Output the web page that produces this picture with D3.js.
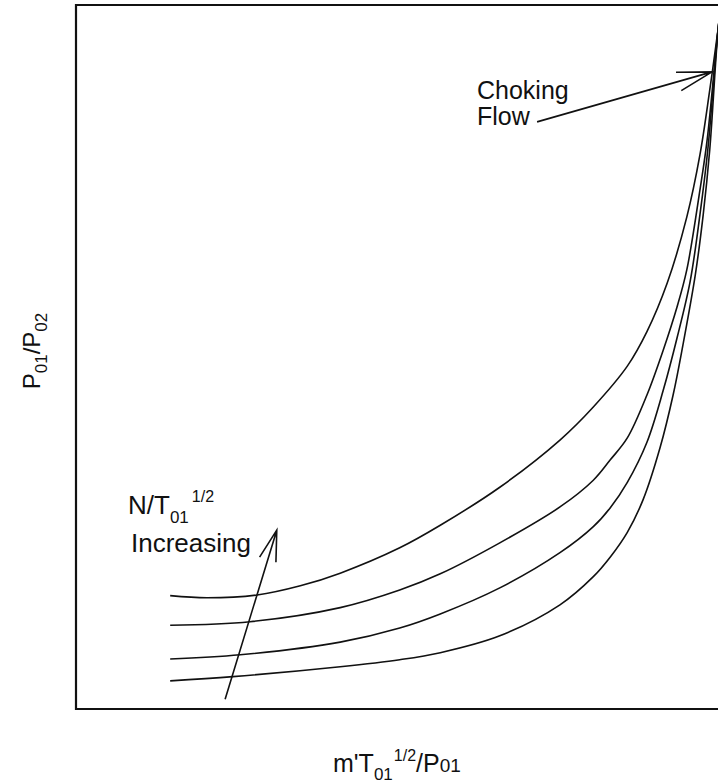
<!DOCTYPE html>
<html>
<head>
<meta charset="utf-8">
<script src="https://cdn.jsdelivr.net/npm/d3@7"></script>
<style>
  html, body { margin: 0; padding: 0; background: #fff; }
  svg { display: block; }
  text { font-family: "Liberation Sans", Arial, Helvetica, sans-serif; fill: #111; }
</style>
</head>
<body>
<svg id="chart" width="718" height="784"></svg>
<script>
// compressor characteristic: pressure ratio vs. non-dimensional mass flow
// arbitrary units 0..100 on both axes (no ticks on the original)

// one constant-speed line per N/T01^1/2, lowest speed first
const speedLine1 = [
    [14.4, 4.0], [24.0, 4.6], [40.4, 6.0], [49.5, 7.0], [55.7, 8.0], [64.8, 10.4],
    [74.0, 14.8], [79.1, 18.8], [81.7, 21.6], [84.3, 25.1], [86.7, 29.7], [89.3, 37.1],
    [91.3, 44.6], [92.8, 51.7], [94.7, 61.7], [95.9, 70.2], [96.9, 79.4], [98.2, 96.7],
    [98.9, 102.1]
];
const speedLine2 = [
    [14.4, 7.1], [25.1, 7.7], [40.4, 9.5], [49.5, 11.5], [55.7, 13.5], [64.8, 17.2],
    [74.0, 22.2], [79.1, 25.9], [81.7, 28.6], [84.3, 32.2], [87.3, 37.9], [89.8, 45.3],
    [91.9, 52.7], [93.9, 60.7], [95.4, 70.2], [96.6, 79.4], [98.2, 96.7], [98.9, 102.1]
];
const speedLine3 = [
    [14.4, 11.9], [26.6, 12.4], [40.4, 14.4], [49.5, 16.9], [55.7, 19.2], [64.8, 23.6],
    [74.0, 28.7], [79.1, 32.5], [81.7, 35.4], [84.3, 38.5], [87.3, 44.6], [89.8, 51.0],
    [91.9, 57.1], [93.4, 62.4], [95.4, 73.7], [96.5, 80.8], [98.2, 96.7], [98.9, 102.1]
];
const speedLine4 = [
    [14.4, 16.1], [20.0, 15.8], [27.7, 16.2], [34.3, 17.5], [40.4, 19.3], [49.5, 22.9],
    [55.7, 26.1], [64.8, 31.5], [74.0, 38.2], [79.1, 42.9], [84.3, 48.7], [87.3, 53.6],
    [90.4, 60.5], [93.4, 69.9], [95.4, 78.7], [96.9, 87.9], [98.2, 96.7], [98.9, 102.1]
];
const speedLines = [speedLine1, speedLine2, speedLine3, speedLine4];

// annotation arrows, [from, to] in data units
const chokingArrow = [[70.5, 83.4], [97.25, 90.5]];
const speedArrow = [[22.8, 1.4], [30.7, 25.4]];


const svg = d3.select("#chart");

const x = d3.scaleLinear().domain([0, 100]).range([76, 730]);
const y = d3.scaleLinear().domain([0, 100]).range([709, 5]);

// frame (right side runs off the page like the scan)
svg.append("path")
    .attr("d", `M${x(100)},${y(100)} H${x(0)} V${y(0)} H${x(100)}`)
    .attr("fill", "none")
    .attr("stroke", "#111")
    .attr("stroke-width", 2.2);

const line = d3.line()
    .x(d => x(d[0]))
    .y(d => y(d[1]))
    .curve(d3.curveCatmullRom.alpha(0.5));

svg.append("g")
    .selectAll("path")
    .data(speedLines)
    .join("path")
    .attr("d", line)
    .attr("fill", "none")
    .attr("stroke", "#111")
    .attr("stroke-width", 1.6);


function drawArrow(pts, barbLen, spread) {
    const [x0, y0] = [x(pts[0][0]), y(pts[0][1])];
    const [x1, y1] = [x(pts[1][0]), y(pts[1][1])];
    const back = Math.atan2(y0 - y1, x0 - x1);
    const a1 = back + spread, a2 = back - spread;

    svg.append("path")
        .attr("d", `M${x0},${y0} L${x1},${y1}` +
              ` M${x1 + barbLen * Math.cos(a1)},${y1 + barbLen * Math.sin(a1)} L${x1},${y1}` +
              ` L${x1 + barbLen * Math.cos(a2)},${y1 + barbLen * Math.sin(a2)}`)
        .attr("fill", "none")
        .attr("stroke", "#111")
        .attr("stroke-width", 1.6);
}

drawArrow(chokingArrow, 36, 0.27);
drawArrow(speedArrow, 32, 0.27);


// labels
svg.append("text").attr("x", 477).attr("y", 99)
    .style("font-size", "25px").text("Choking");
svg.append("text").attr("x", 477).attr("y", 125)
    .style("font-size", "25px").text("Flow");

let t = svg.append("text").attr("x", 128).attr("y", 514).style("font-size", "26px");
t.append("tspan").text("N/T");
t.append("tspan").attr("dy", 9).style("font-size", "17px").text("01");
t.append("tspan").attr("dx", 3).attr("dy", -21).style("font-size", "16px").text("1/2");

svg.append("text").attr("x", 131).attr("y", 552)
    .style("font-size", "26px").text("Increasing");

// x axis title
t = svg.append("text").attr("x", 333).attr("y", 772).style("font-size", "25px");
t.append("tspan").text("m'T");
t.append("tspan").attr("dy", 8).style("font-size", "17px").text("01");
t.append("tspan").attr("dx", 1).attr("dy", -19).style("font-size", "16px").text("1/2");
t.append("tspan").attr("dy", 11).text("/P");
t.append("tspan").style("font-size", "19px").text("01");

// y axis title
t = svg.append("text")
    .attr("transform", "translate(40,351) rotate(-90)")
    .attr("text-anchor", "middle")
    .style("font-size", "24px");
t.append("tspan").text("P");
t.append("tspan").attr("dy", 7).style("font-size", "17px").text("01");
t.append("tspan").attr("dy", -7).text("/P");
t.append("tspan").attr("dy", 7).style("font-size", "17px").text("02");
</script>
</body>
</html>
